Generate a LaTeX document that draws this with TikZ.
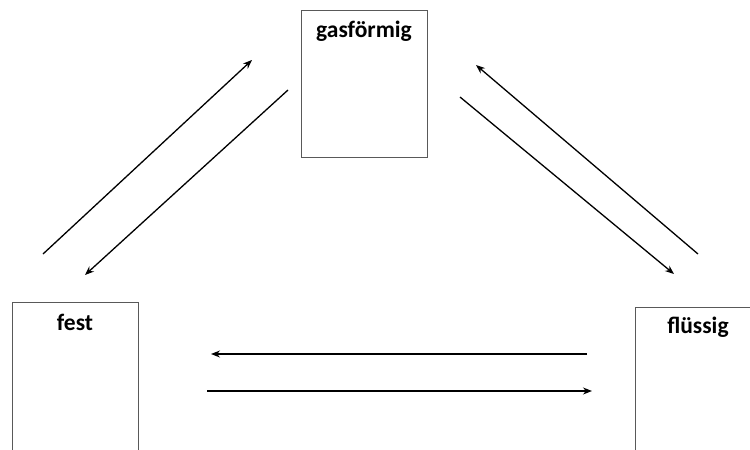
\documentclass[tikz,border=0pt]{standalone}
\usepackage{fontspec}
\setmainfont{Carlito}
\usetikzlibrary{arrows.meta}
\begin{document}
\begin{tikzpicture}[x=1pt,y=-1pt,
  phase/.style={draw=black!65,line width=0.9pt,fill=white,minimum width=126pt,inner sep=0pt,anchor=north west},
  label/.style={font=\bfseries\fontsize{23.5}{26}\selectfont,anchor=center},
  conn/.style={line width=1.3pt,-{Stealth[length=9pt,width=7pt]}}]
\useasboundingbox (0,0) rectangle (750,450);
\clip (0,0) rectangle (750,450);
% boxes
\node[phase,minimum height=147pt] (gas) at (301,10) {};
\node[phase,minimum height=152pt] (fest) at (12,302) {};
\node[phase,minimum height=152pt] (fl) at (635,307) {};
\node[label] (tgas) at (364,31) {gasförmig};
\node[label] (tfest) at (75,322) {fest};
\node[label] (tfl) at (698,327) {flüssig};
% coordinates
\coordinate (a1) at (43,254); \coordinate (a2) at (252,60);
\coordinate (b1) at (288,90); \coordinate (b2) at (85,275);
\coordinate (c1) at (698,254); \coordinate (c2) at (476,65);
\coordinate (d1) at (460,97); \coordinate (d2) at (674,274);
\coordinate (e1) at (587,354); \coordinate (e2) at (211,354);
\coordinate (f1) at (207,391); \coordinate (f2) at (592,391);
\draw[conn] (a1) -- (a2);
\draw[conn] (b1) -- (b2);
\draw[conn] (c1) -- (c2);
\draw[conn] (d1) -- (d2);
\draw[conn] (e1) -- (e2);
\draw[conn] (f1) -- (f2);
\end{tikzpicture}
\end{document}
